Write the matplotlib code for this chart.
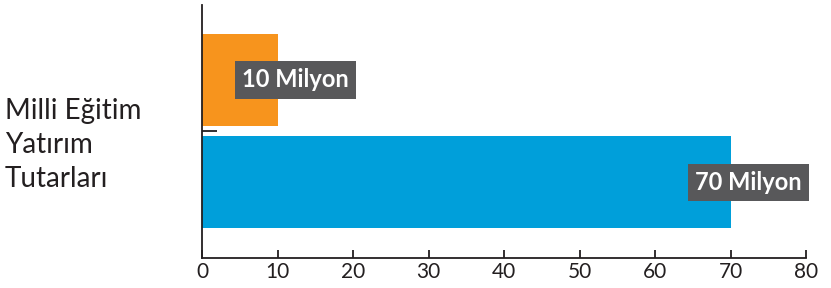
import matplotlib.pyplot as plt

category = "Milli Eğitim\nYatırım\nTutarları"
values = [10, 70]
labels = ["10 Milyon", "70 Milyon"]
colors = ["#F7941D", "#009FDA"]
xticks = [0, 10, 20, 30, 40, 50, 60, 70, 80]

plt.rcParams['font.family'] = ['Lato', 'DejaVu Sans']

fig = plt.figure(figsize=(8.31, 2.88), dpi=100)
ax = fig.add_axes([202/831, 30/288, 604/831, 253/288])

ypos = [0.555, -0.555]
ax.barh(ypos, values, height=1.0, color=colors)

for y, v, lab in zip(ypos, values, labels):
    ax.text(v + 2.4, y, lab, ha='center', va='center', color='white',
            fontsize=17, fontweight='bold',
            bbox=dict(boxstyle='square,pad=0.3', fc='#58585A', ec='none'))

ax.set_xlim(0, 80)
ax.set_ylim(-1.38, 1.37)
ax.set_xticks(xticks)
ax.set_yticks([0])
ax.set_yticklabels([''])
for s in ['top', 'right']:
    ax.spines[s].set_visible(False)
for s in ['left', 'bottom']:
    ax.spines[s].set_color('#231F20')
    ax.spines[s].set_linewidth(1.3)
ax.tick_params(axis='x', direction='in', length=6, width=1.3, color='#231F20',
               labelsize=15, pad=3, labelcolor='#231F20')
ax.tick_params(axis='y', direction='in', length=11, width=1.3, color='#231F20')

fig.text(5/831, 0.497, category, ha='left', va='center', fontsize=20,
         linespacing=1.38, color='#231F20')

fig.savefig('out.png', dpi=100)
